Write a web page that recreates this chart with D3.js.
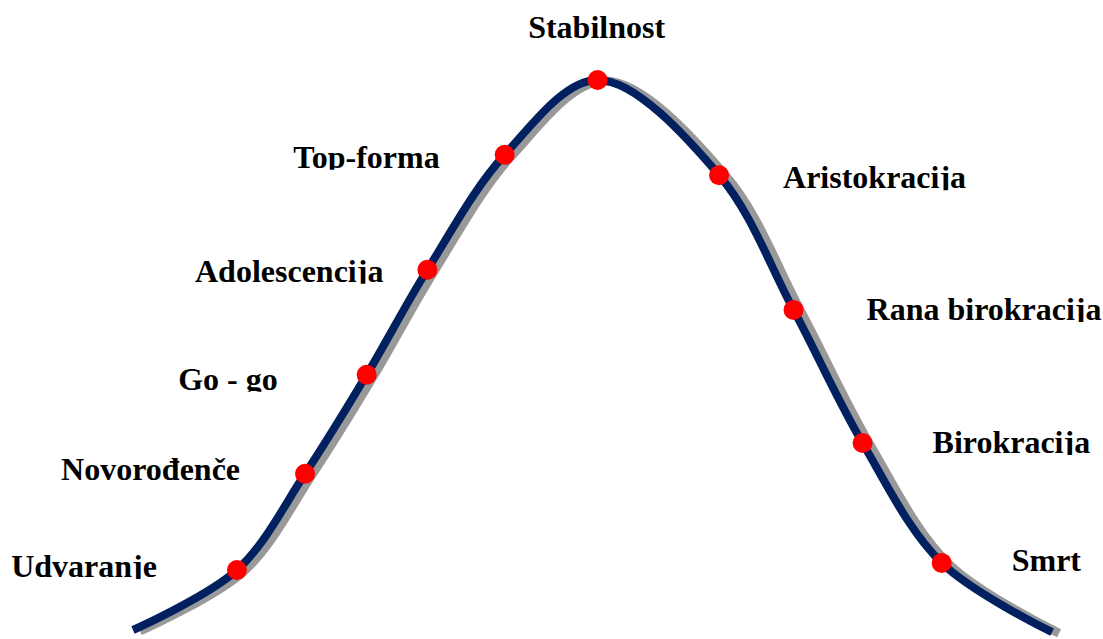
<!DOCTYPE html>
<html lang="hr">
<head>
<meta charset="utf-8">
<title>Životni ciklus organizacije</title>
<script src="https://d3js.org/d3.v7.min.js"></script>
<style>
  html, body { margin: 0; padding: 0; background: #fff; }
  svg { display: block; }
  .label { font-family: "Liberation Serif", "Times New Roman", serif; font-weight: bold; font-size: 32px; fill: #000; }
</style>
</head>
<body>
<svg id="chart" width="1103" height="639"></svg>
<script>
// stages of the life cycle (position along the cycle, vitality 0-100)
var stages = ["Udvaranje", "Novorođenče", "Go - go", "Adolescencija", "Top-forma",
              "Stabilnost", "Aristokracija", "Rana birokracija", "Birokracija", "Smrt"];
var stageX = [11.3, 18.7, 25.4, 32.0, 40.4, 50.5, 63.7, 71.8, 79.3, 87.9];
var stageY = [10.9, 28.4, 46.4, 65.5, 86.4, 100, 82.7, 58.2, 34.0, 12.2];

// curve ends (start and end of the cycle)
var startPoint = [0, 0];
var endPoint = [99.9, -0.4];

// label placement relative to its dot: side, dx, dy (layout only)
var labelLayout = [
  ["end", -80, 7], ["end", -65, 6], ["end", -89, 15], ["end", -44, 12], ["end", -65, 13],
  ["middle", -1, -42], ["start", 64, 13], ["start", 73, 10], ["start", 70, 10], ["start", 70, 8]
];

var svg = d3.select("#chart"),
    width = +svg.attr("width"),
    height = +svg.attr("height");

var x = d3.scaleLinear().domain([0, 100]).range([133, 1053]);
var y = d3.scaleLinear().domain([0, 100]).range([630, 80]);

var pts = [startPoint];
stages.forEach(function (s, i) { pts.push([stageX[i], stageY[i]]); });
pts.push(endPoint);

var line = d3.line()
  .x(function (d) { return x(d[0]); })
  .y(function (d) { return y(d[1]); })
  .curve(d3.curveCatmullRom.alpha(0.5));

// shadow
svg.append("path")
  .attr("d", line(pts))
  .attr("transform", "translate(7,1)")
  .attr("fill", "none")
  .attr("stroke", "#999999")
  .attr("stroke-width", 9);

// main curve
svg.append("path")
  .attr("d", line(pts))
  .attr("fill", "none")
  .attr("stroke", "#002060")
  .attr("stroke-width", 8);

// dots
svg.append("g").selectAll("circle")
  .data(stages)
  .enter()
  .append("circle")
  .attr("cx", function (d, i) { return x(stageX[i]); })
  .attr("cy", function (d, i) { return y(stageY[i]); })
  .attr("r", 10)
  .attr("fill", "#ff0000");

// labels, descenders are cut off like in the original text boxes
var defs = svg.append("defs");
var labels = svg.append("g");
stages.forEach(function (s, i) {
  var lx = x(stageX[i]) + labelLayout[i][1];
  var ly = y(stageY[i]) + labelLayout[i][2];
  defs.append("clipPath")
    .attr("id", "clip" + i)
    .append("rect")
    .attr("x", 0).attr("y", 0)
    .attr("width", width)
    .attr("height", ly + 2);
  labels.append("text")
    .attr("class", "label")
    .attr("clip-path", "url(#clip" + i + ")")
    .attr("x", lx)
    .attr("y", ly)
    .attr("text-anchor", labelLayout[i][0])
    .text(s);
});
</script>
</body>
</html>
